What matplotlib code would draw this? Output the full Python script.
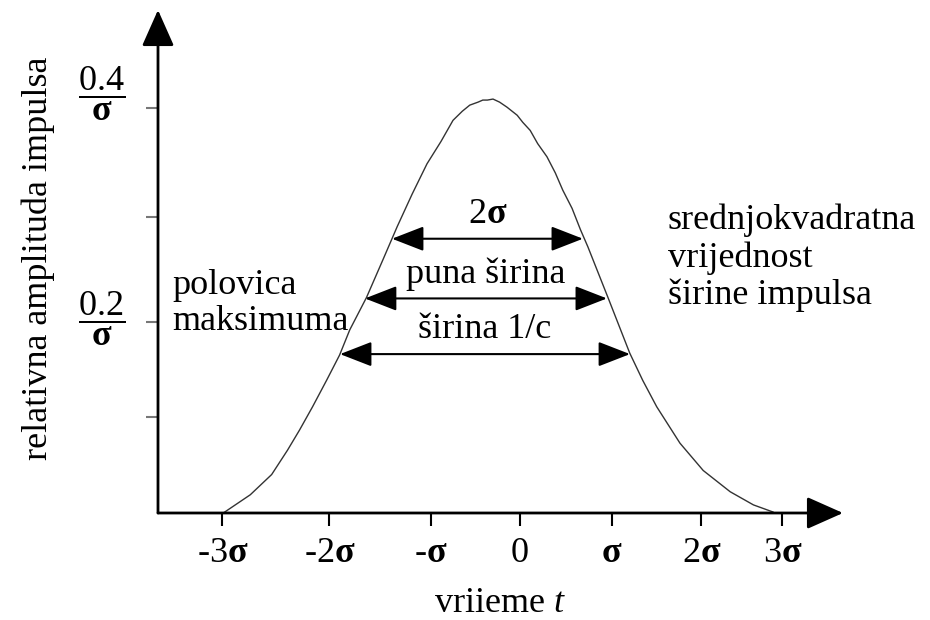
import matplotlib
matplotlib.use("Agg")
import matplotlib.pyplot as plt

plt.rcParams['font.family'] = ['Liberation Serif', 'DejaVu Serif']
plt.rcParams['mathtext.fontset'] = 'custom'
plt.rcParams['mathtext.rm'] = 'Liberation Serif'
plt.rcParams['mathtext.bf'] = 'Liberation Serif:bold'
plt.rcParams['mathtext.it'] = 'Liberation Serif:italic'

# pulse shape (t in sigma, amplitude in 1/sigma)
t_vals = [-3.19, -2.90, -2.67, -2.50, -2.37, -2.23, -2.08, -1.94, -1.83, -1.65,
          -1.47, -1.32, -1.16, -1.00, -0.85, -0.72, -0.62, -0.54, -0.45, -0.40,
          -0.35, -0.29, -0.22, -0.14, -0.03, 0.03, 0.11, 0.19, 0.29, 0.38,
          0.46, 0.56, 0.65, 0.73, 0.95, 1.18, 1.32, 1.47, 1.72, 1.97,
          2.26, 2.51, 2.72]
amp_vals = [0.000, 0.018, 0.038, 0.062, 0.082, 0.105, 0.131, 0.156, 0.181, 0.213,
            0.251, 0.283, 0.315, 0.345, 0.367, 0.388, 0.397, 0.403, 0.406, 0.408,
            0.408, 0.409, 0.406, 0.401, 0.393, 0.386, 0.378, 0.365, 0.352, 0.336,
            0.319, 0.301, 0.280, 0.263, 0.212, 0.158, 0.131, 0.105, 0.069, 0.042,
            0.021, 0.008, 0.001]

# x ticks (hand drawn, not evenly spaced in the original)
x_ticks = [-3.20, -2.05, -0.96, 0.0, 0.99, 1.95, 2.82]
x_tick_labels = ['-3$\\mathbf{σ}$', '-2$\\mathbf{σ}$', '-$\\mathbf{σ}$', '0',
                 '$\\mathbf{σ}$', '2$\\mathbf{σ}$', '3$\\mathbf{σ}$']
y_ticks = [0.095, 0.189, 0.292, 0.400]
y_frac_text = ['0.2', '0.4']

# width markers
arrow_y = [0.271, 0.212, 0.157]
arrow_left = [-1.376, -1.667, -1.935]
arrow_right = [0.677, 0.935, 1.183]
arrow_labels = ['2$\\mathbf{σ}$', 'puna širina', 'širina 1/c']

FS = 26
xmin, xmax = -3.892, 3.473
ymin, ymax = 0.0, 0.497

fig = plt.figure(figsize=(9.3, 6.2), dpi=100)
ax = fig.add_axes([158/930, 1 - 513/620, (843 - 158)/930, (513 - 10)/620])
ax.set_xlim(xmin, xmax)
ax.set_ylim(ymin, ymax)
for s in ax.spines.values():
    s.set_visible(False)

# axes with arrow heads
ax.annotate('', xy=(xmax, 0), xytext=(xmin, 0), annotation_clip=False,
            arrowprops=dict(arrowstyle='-|>,head_length=0.9,head_width=0.4', mutation_scale=25,
                            color='black', lw=2, shrinkA=0, shrinkB=0))
ax.annotate('', xy=(xmin, ymax), xytext=(xmin, 0), annotation_clip=False,
            arrowprops=dict(arrowstyle='-|>,head_length=0.9,head_width=0.4', mutation_scale=25,
                            color='black', lw=2, shrinkA=0, shrinkB=0))

ax.plot(t_vals, amp_vals, color='#333333', lw=1.0, clip_on=False)

ax.set_xticks(x_ticks)
ax.set_xticklabels(x_tick_labels, fontsize=FS)
ax.tick_params(axis='x', direction='out', length=9, width=1.5, pad=8, color='black')
ax.set_yticks(y_ticks)
ax.set_yticklabels([])
ax.tick_params(axis='y', direction='out', length=9, width=1.5, color='#777777')

# fraction labels on the y axis (placed by hand like in the original)
for ypos, txt in zip([0.192, 0.414], y_frac_text):
    ax.text(-0.083, ypos, '$\\dfrac{\\mathrm{%s}}{\\mathbf{σ}}$' % txt, transform=ax.get_yaxis_transform(),
            ha='center', va='center', fontsize=FS)

for y, x0, x1, lab in zip(arrow_y, arrow_left, arrow_right, arrow_labels):
    ax.annotate('', xy=(x1, y), xytext=(x0, y),
                arrowprops=dict(arrowstyle='<|-|>,head_length=0.9,head_width=0.35', mutation_scale=22,
                                color='black', lw=1.5, shrinkA=0, shrinkB=0))
    ax.text((x0 + x1) / 2, y + 0.024, lab, ha='center', va='center', fontsize=FS)

ax.text(-3.74, 0.207, 'polovica\nmaksimuma', ha='left', va='center', fontsize=FS, linespacing=1.1)
ax.text(1.59, 0.252, 'srednjokvadratna\nvrijednost\nširine impulsa', ha='left', va='center',
        fontsize=FS, linespacing=1.15)

fig.text(38/930, 1 - 258/620, 'relativna amplituda impulsa', rotation=90, ha='center', va='center', fontsize=FS)
fig.text(500/930, 1 - 603/620, 'vriieme $t$', ha='center', va='center', fontsize=FS)

fig.savefig('out.png', dpi=100)
